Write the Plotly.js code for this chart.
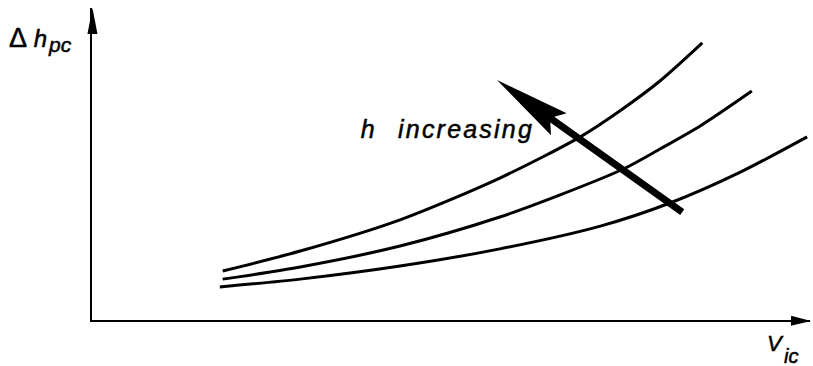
<!DOCTYPE html>
<html>
<head>
<meta charset="utf-8">
<script src="https://cdn.plot.ly/plotly-3.0.1.min.js"></script>
<style>
  body { margin: 0; background: #fff; }
  /* slightly heavier lettering for all labels */
  g.annotation text { stroke: #000; stroke-width: 0.5px; }
  /* wide, loosely tracked lettering for the trend label */
  g.annotation[data-index="4"] text { letter-spacing: 2.2px; word-spacing: 12px; }
</style>
</head>
<body>
<div id="chart" style="width:813px;height:366px"></div>
<script>
// Pressure-head rise against inlet velocity, one curve per head level h (arbitrary units)
const vicLow  = [1.78, 2.90, 4.29, 5.68, 7.08, 8.05, 9.03, 9.96];
const dhLow   = [1.06, 1.31, 1.73, 2.28, 3.01, 3.75, 4.74, 5.87];
const vicMid  = [1.82, 2.90, 4.29, 5.68, 6.52, 7.40, 7.91, 8.47, 9.19];
const dhMid   = [1.31, 1.70, 2.37, 3.30, 4.01, 4.84, 5.48, 6.22, 7.34];
const vicHigh = [1.82, 2.90, 4.29, 5.68, 6.80, 7.35, 7.91, 8.50];
const dhHigh  = [1.57, 2.21, 3.21, 4.55, 5.87, 6.70, 7.66, 8.88];

// Trend arrow: tail and tip in data units
const trendTail = [8.22, 3.46];
const trendTip  = [5.64, 7.69];

const W = 813, H = 366;
const M = { l: 92, r: 3, t: 8, b: 46 };
const PW = W - M.l - M.r, PH = H - M.t - M.b;
const XR = [0, 10], YR = [0, 10];

// pixel <-> paper / data helpers
const dataToPx = p => [M.l + (p[0] - XR[0]) / (XR[1] - XR[0]) * PW,
                       M.t + PH - (p[1] - YR[0]) / (YR[1] - YR[0]) * PH];
const pxToPaper = p => [(p[0] - M.l) / PW, (M.t + PH - p[1]) / PH];
const px = (x, y) => pxToPaper([x, y]);

// Filled arrow outline (shaft + head), computed in pixels, returned in paper units
function arrowPath(p0, p1, shaft, headLen, headW, notch) {
  const dx = p1[0] - p0[0], dy = p1[1] - p0[1], L = Math.hypot(dx, dy);
  const ux = dx / L, uy = dy / L, nx = -uy, ny = ux;
  const at = (d, o) => [p1[0] - ux * d + nx * o, p1[1] - uy * d + ny * o];
  const pts = [];
  if (shaft > 0) pts.push([p0[0] + nx * shaft / 2, p0[1] + ny * shaft / 2]);
  if (shaft > 0) pts.push(at(notch, shaft / 2));
  pts.push(at(headLen, headW / 2));
  pts.push(p1);
  pts.push(at(headLen, -headW / 2));
  if (shaft > 0) pts.push(at(notch, -shaft / 2));
  if (shaft > 0) pts.push([p0[0] - nx * shaft / 2, p0[1] - ny * shaft / 2]);
  return 'M' + pts.map(p => pxToPaper(p).map(v => v.toFixed(5)).join(',')).join('L') + 'Z';
}

const lineStyle = { color: '#000', width: 3, shape: 'spline', smoothing: 0.8 };
const traces = [
  { x: vicLow,  y: dhLow,  mode: 'lines', line: lineStyle, hoverinfo: 'skip' },
  { x: vicMid,  y: dhMid,  mode: 'lines', line: lineStyle, hoverinfo: 'skip' },
  { x: vicHigh, y: dhHigh, mode: 'lines', line: lineStyle, hoverinfo: 'skip' }
];

const origin = dataToPx([XR[0], YR[0]]);
const shapes = [
  // arrowheads on the axes
  { type: 'path', xref: 'paper', yref: 'paper', line: { width: 0 }, fillcolor: '#000',
    path: arrowPath([origin[0], origin[1] - 60], [origin[0] + 0.5, M.t], 0, 26, 10, 26) },
  { type: 'path', xref: 'paper', yref: 'paper', line: { width: 0 }, fillcolor: '#000',
    path: arrowPath([W - 60, origin[1]], [W - 2, origin[1] + 1], 0, 20, 10, 20) },
  // "h increasing" trend arrow
  { type: 'path', xref: 'paper', yref: 'paper', line: { width: 0 }, fillcolor: '#000',
    path: arrowPath(dataToPx(trendTail), dataToPx(trendTip), 7, 76, 27, 68) }
];

const fam = 'Liberation Sans, Arial, sans-serif';
const label = (x, y, text, size, anchor) => ({
  xref: 'paper', yref: 'paper', x: px(x, y)[0], y: px(x, y)[1],
  xanchor: anchor || 'left', yanchor: 'middle', showarrow: false, text: text,
  font: { family: fam, size: size, color: '#000' }
});
const annotations = [
  label(7, 38, '<span style="font-size:27px">Δ</span> <i>h</i>', 24),  // y-axis label
  label(46, 44, '<i>pc</i>', 21),          // its subscript
  label(765, 343, '<i>V</i>', 22),         // x-axis label
  label(782, 356, '<i>ic</i>', 20),        // its subscript
  label(447, 129, '<i>h increasing</i>', 25, 'center')
];

const axisBase = { showgrid: false, zeroline: false, showticklabels: false, ticks: '',
                   showline: true, linecolor: '#000', fixedrange: true };
const layout = {
  width: W, height: H,
  margin: M,
  paper_bgcolor: '#fff', plot_bgcolor: '#fff',
  showlegend: false,
  xaxis: Object.assign({ range: XR, linewidth: 1.5 }, axisBase),
  yaxis: Object.assign({ range: YR, linewidth: 2 }, axisBase),
  shapes: shapes,
  annotations: annotations
};

Plotly.newPlot('chart', traces, layout, { displayModeBar: false, staticPlot: true });
</script>
</body>
</html>
